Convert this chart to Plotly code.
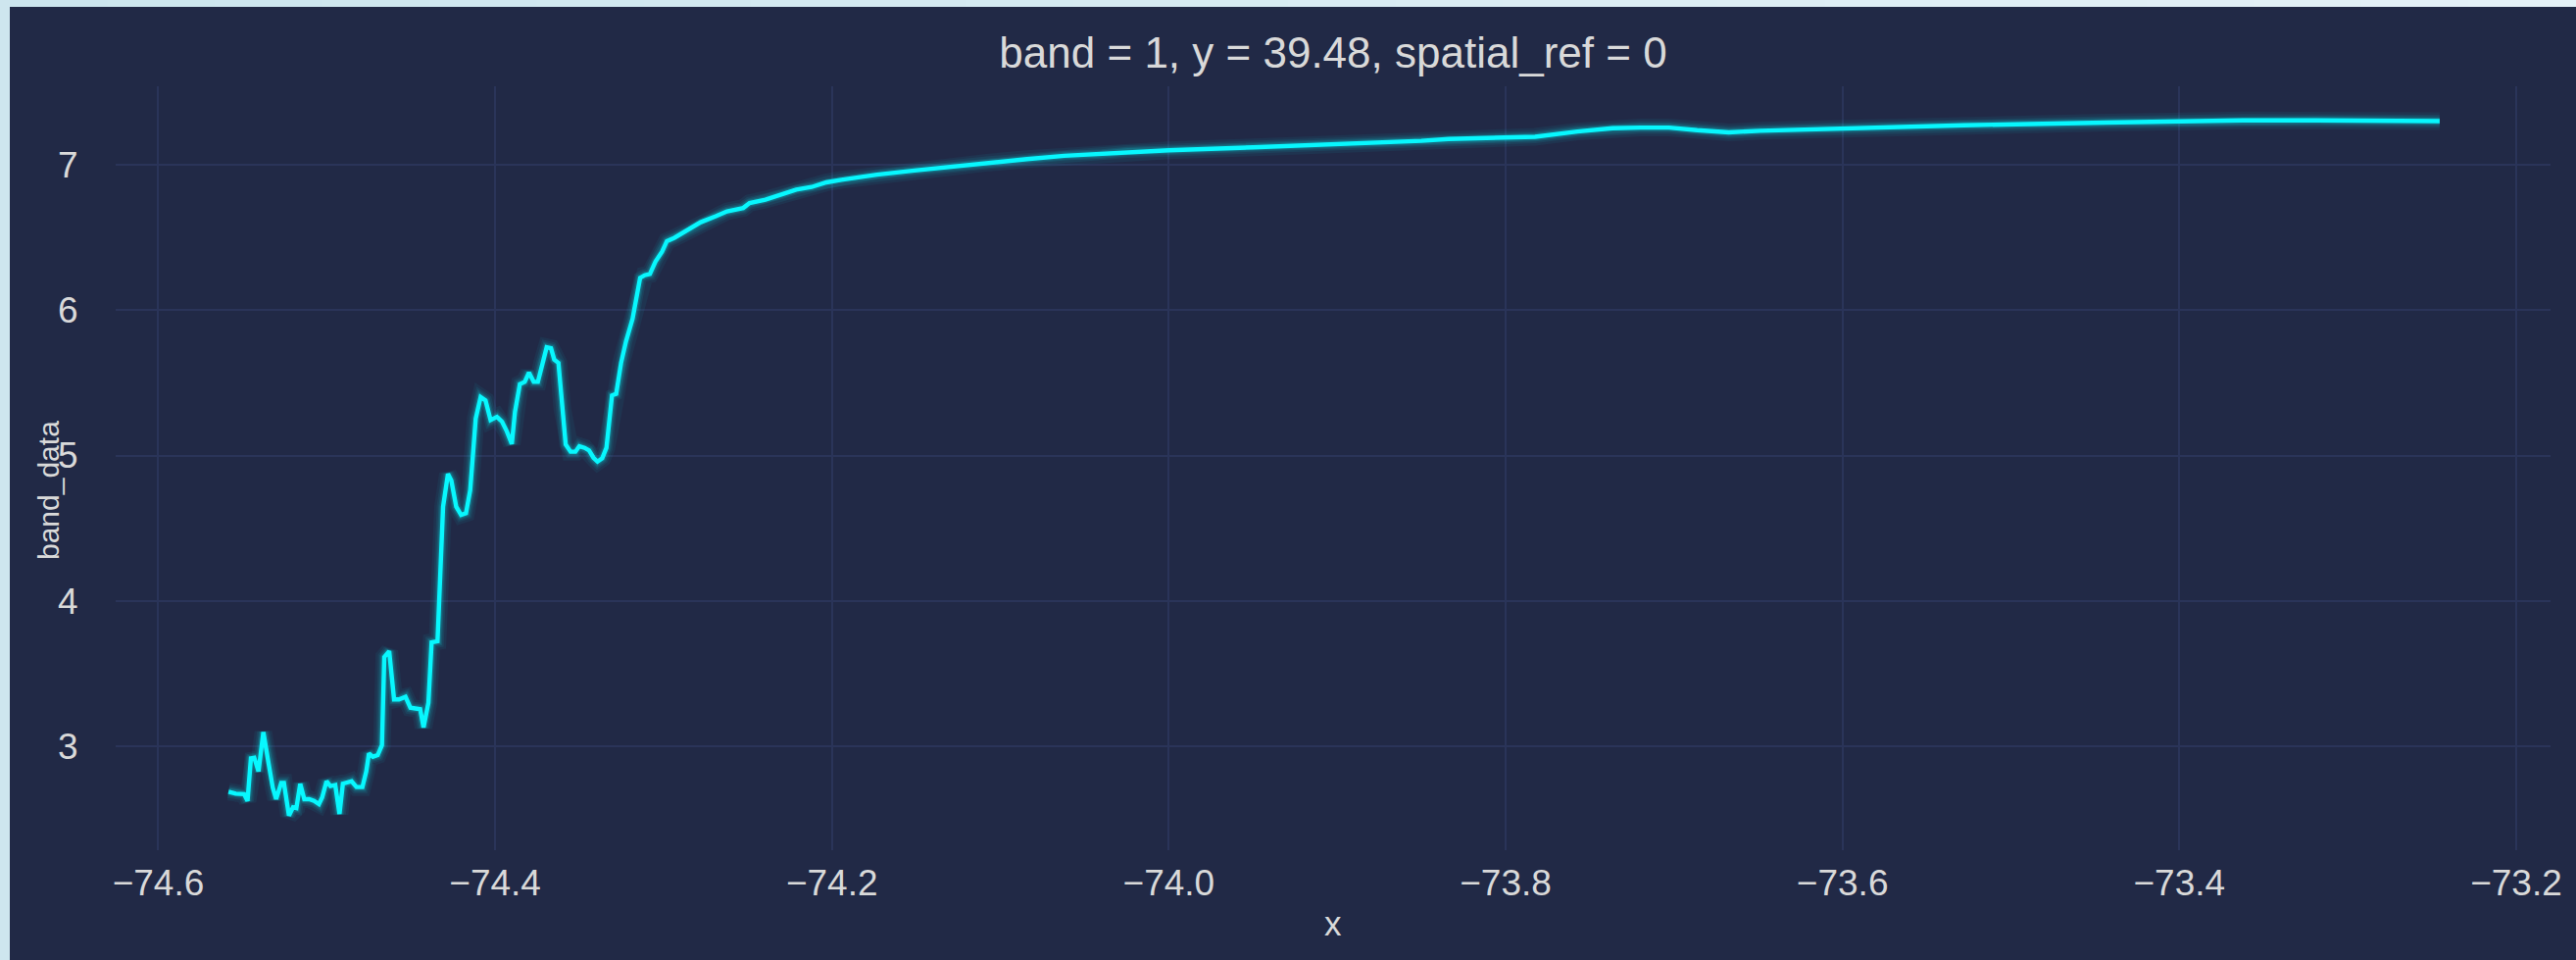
import plotly.graph_objects as go

# Profile along longitude at latitude 39.48 (band 1)
x_values = [
    -74.5583, -74.5540, -74.5490, -74.5470, -74.5450, -74.5430, -74.5405, -74.5376,
    -74.5350, -74.5320, -74.5300, -74.5270, -74.5254, -74.5224, -74.5200, -74.5180,
    -74.5157, -74.5133, -74.5104, -74.5075, -74.5046, -74.5027, -74.5001, -74.4978,
    -74.4949, -74.4924, -74.4904, -74.4877, -74.4852, -74.4823, -74.4788, -74.4765,
    -74.4749, -74.4726, -74.4697, -74.4672, -74.4658, -74.4629, -74.4600, -74.4571,
    -74.4532, -74.4503, -74.4464, -74.4445, -74.4425, -74.4396, -74.4377, -74.4342,
    -74.4309, -74.4280, -74.4260, -74.4231, -74.4202, -74.4173, -74.4148, -74.4115,
    -74.4086, -74.4057, -74.4027, -74.3989, -74.3959, -74.3930, -74.3901, -74.3882,
    -74.3853, -74.3824, -74.3799, -74.3771, -74.3746, -74.3721, -74.3694, -74.3668,
    -74.3649, -74.3624, -74.3601, -74.3581, -74.3552, -74.3523, -74.3500, -74.3469,
    -74.3442, -74.3416, -74.3392, -74.3364, -74.3339, -74.3319, -74.3306, -74.3281,
    -74.3252, -74.3223, -74.3184, -74.3139, -74.3112, -74.3081, -74.3048, -74.3009,
    -74.2980, -74.2935, -74.2846, -74.2779, -74.2690, -74.2623, -74.2527, -74.2489,
    -74.2395, -74.2303, -74.2212, -74.2121, -74.2033, -74.1944, -74.1733, -74.1510,
    -74.1288, -74.1065, -74.0842, -74.0620, -74.0397, -74.0245, -74.0000, -73.9500,
    -73.9000, -73.8500, -73.8338, -73.8000, -73.7825, -73.7574, -73.7366, -73.7198,
    -73.7030, -73.6863, -73.6675, -73.6488, -73.6000, -73.5279, -73.4440, -73.3604,
    -73.3186, -73.2454,
]
band_data = [
    2.688, 2.674, 2.670, 2.624, 2.917, 2.921, 2.827, 3.097,
    2.917, 2.715, 2.636, 2.748, 2.748, 2.523, 2.580, 2.575,
    2.742, 2.636, 2.636, 2.624, 2.602, 2.647, 2.759, 2.726,
    2.733, 2.534, 2.742, 2.748, 2.759, 2.719, 2.719, 2.827,
    2.950, 2.928, 2.939, 3.007, 3.614, 3.654, 3.322, 3.322,
    3.340, 3.265, 3.259, 3.255, 3.130, 3.299, 3.715, 3.722,
    4.648, 4.873, 4.828, 4.648, 4.592, 4.603, 4.761, 5.255,
    5.402, 5.379, 5.244, 5.266, 5.233, 5.165, 5.080, 5.300,
    5.491, 5.507, 5.570, 5.507, 5.507, 5.637, 5.745, 5.738,
    5.660, 5.637, 5.323, 5.076, 5.026, 5.026, 5.064, 5.053,
    5.035, 4.985, 4.958, 4.981, 5.053, 5.278, 5.413, 5.424,
    5.637, 5.784, 5.941, 6.222, 6.240, 6.249, 6.334, 6.402,
    6.475, 6.498, 6.555, 6.605, 6.646, 6.680, 6.703, 6.737,
    6.760, 6.795, 6.829, 6.847, 6.879, 6.897, 6.932, 6.961,
    6.989, 7.016, 7.039, 7.062, 7.075, 7.091, 7.100, 7.120,
    7.140, 7.165, 7.177, 7.189, 7.193, 7.229, 7.252, 7.256,
    7.256, 7.238, 7.223, 7.234, 7.252, 7.272, 7.290, 7.306,
    7.306, 7.301,
]
x_ticks = [-74.6, -74.4, -74.2, -74.0, -73.8, -73.6, -73.4, -73.2]
y_ticks = [3, 4, 5, 6, 7]

title_text = "band = 1, y = 39.48, spatial_ref = 0"
x_label = "x"
y_label = "band_data"

# Theme
BG = "#212946"
GRID = "#2A3459"
TEXT = "#d9d9d9"
LINE = "#08F7FE"
FONT = "Liberation Sans, Arial, sans-serif"

W, H = 2628, 979
L, R, T, B = 118, 2602, 88, 867  # plot area in pixels


def px_x(p):
    return (p - L) / (R - L)


def px_y(p):
    return (B - p) / (B - T)


fig = go.Figure()

# soft glow under the main line
for w, a in [(18, 0.05), (13, 0.07), (9.5, 0.10), (7, 0.14)]:
    fig.add_trace(go.Scatter(
        x=x_values, y=band_data, mode="lines",
        line=dict(color=LINE, width=w),
        opacity=a, hoverinfo="skip", showlegend=False,
    ))

fig.add_trace(go.Scatter(
    x=x_values, y=band_data, mode="lines",
    line=dict(color=LINE, width=4.4),
    showlegend=False,
))

shapes = []
# light outer frame: gradient strip along the top, plain strip on the left
n_seg = 24
c0 = (204, 229, 238)
c1 = (228, 241, 247)
for i in range(n_seg):
    t = i / (n_seg - 1)
    col = "rgb({},{},{})".format(*[round(c0[k] + (c1[k] - c0[k]) * t) for k in range(3)])
    shapes.append(dict(
        type="rect", xref="paper", yref="paper", layer="below",
        x0=px_x(W * i / n_seg), x1=px_x(W * (i + 1) / n_seg + 1),
        y0=px_y(-2), y1=px_y(7), fillcolor=col, line=dict(width=0),
    ))
shapes.append(dict(
    type="rect", xref="paper", yref="paper", layer="below",
    x0=px_x(-2), x1=px_x(10), y0=px_y(-2), y1=px_y(H + 2),
    fillcolor="rgb(206,230,238)", line=dict(width=0),
))

annotations = [
    dict(text=x_label, xref="paper", yref="paper", x=0.5, y=px_y(942),
         xanchor="center", yanchor="middle", showarrow=False,
         font=dict(size=35, color=TEXT, family=FONT)),
    dict(text=y_label, xref="paper", yref="paper", x=px_x(49), y=px_y(500),
         xanchor="center", yanchor="middle", showarrow=False, textangle=-90,
         font=dict(size=30, color=TEXT, family=FONT)),
]

fig.update_layout(
    width=W, height=H,
    margin=dict(l=L, r=W - R, t=T, b=H - B, pad=0),
    paper_bgcolor=BG,
    plot_bgcolor=BG,
    font=dict(family=FONT, color=TEXT, size=36),
    title=dict(
        text=title_text, x=(L + R) / 2 / W, xanchor="center",
        y=1 - 54 / H, yanchor="middle", yref="container",
        font=dict(size=44, color=TEXT, family=FONT),
    ),
    shapes=shapes,
    annotations=annotations,
    showlegend=False,
)

fig.update_xaxes(
    range=[-74.6253, -73.1796],
    tickvals=x_ticks,
    ticktext=[f"{v:.1f}".replace("-", "\u2212") for v in x_ticks],
    showgrid=True, gridcolor=GRID, gridwidth=2,
    zeroline=False, showline=False,
    ticks="outside", ticklen=1, tickcolor="rgba(0,0,0,0)",
    tickfont=dict(size=37, color=TEXT),
)
fig.update_yaxes(
    range=[2.285, 7.54],
    tickvals=y_ticks,
    ticktext=[str(v) for v in y_ticks],
    showgrid=True, gridcolor=GRID, gridwidth=2,
    zeroline=False, showline=False,
    ticks="outside", ticklen=30, tickcolor="rgba(0,0,0,0)",
    tickfont=dict(size=37, color=TEXT),
)

fig.write_html("out.html")
